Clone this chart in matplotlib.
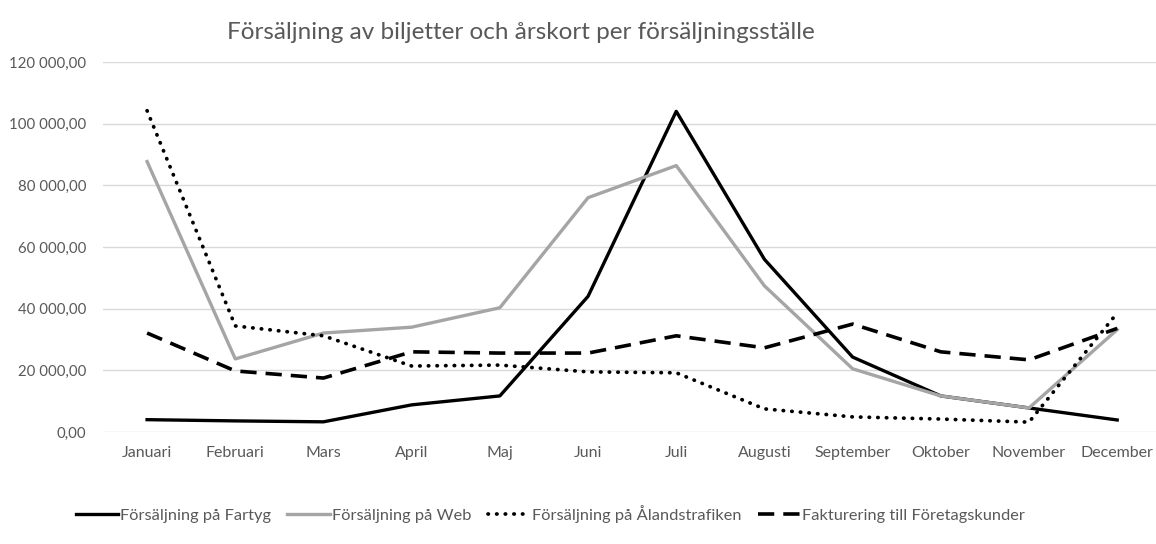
import matplotlib.pyplot as plt
from matplotlib.ticker import FuncFormatter

# month labels
months = ["Januari", "Februari", "Mars", "April", "Maj", "Juni", "Juli",
          "Augusti", "September", "Oktober", "November", "December"]

# values
fartyg = [4000, 3600, 3300, 8800, 11700, 44000, 104000, 56000, 24300, 11700, 7800, 3900]
web = [87700, 23700, 32100, 34000, 40300, 76000, 86400, 47400, 20500, 11700, 7800, 33200]
alandstrafiken = [104200, 34400, 31200, 21400, 21700, 19500, 19200, 7500, 4900, 4200, 3200, 38600]
foretag = [32100, 19800, 17500, 26000, 25600, 25600, 31200, 27300, 35000, 26000, 23400, 33600]

labels = ["Försäljning på Fartyg", "Försäljning på Web",
          "Försäljning på Ålandstrafiken", "Fakturering till Företagskunder"]

plt.rcParams['font.family'] = ['Lato', 'DejaVu Sans']
txt = '#595959'

fig = plt.figure(figsize=(11.56, 5.44), dpi=100)
ax = fig.add_axes([103 / 1156, 112 / 544, 1053 / 1156, 370 / 544])

x = range(len(months))
ax.plot(x, fartyg, color='black', lw=2.4, solid_joinstyle='round', label=labels[0])
ax.plot(x, web, color='#A5A5A5', lw=2.4, solid_joinstyle='round', label=labels[1])
ax.plot(x, alandstrafiken, color='black', lw=2.7, dashes=(0.1, 2.2),
        dash_capstyle='round', label=labels[2])
ax.plot(x, foretag, color='black', lw=2.6, dashes=(4.5, 2.5), label=labels[3])

ax.set_xlim(-0.5, 11.44)
ax.set_ylim(0, 120000)
ax.set_yticks(range(0, 120001, 20000))
ax.yaxis.set_major_formatter(FuncFormatter(
    lambda v, p: f"{v:,.2f}".replace(",", " ").replace(".", ",")))
ax.set_xticks(list(x))
ax.set_xticklabels(months)
ax.tick_params(length=0, labelsize=11, labelcolor=txt)
ax.tick_params(axis='y', pad=12, labelsize=10.8)
ax.tick_params(axis='x', pad=10, labelsize=11.5)
ax.grid(axis='y', color='#D9D9D9', lw=1)
ax.set_axisbelow(True)
for s in ax.spines.values():
    s.set_visible(False)

fig.text(0.451, 0.94, "Försäljning av biljetter och årskort per försäljningsställe",
         ha='center', va='center', fontsize=17.5, color=txt)

fig.legend(loc='center', bbox_to_anchor=(0.476, 0.055), ncol=4, frameon=False,
           fontsize=11.8, handlelength=2.6, handletextpad=0.1, columnspacing=1.0,
           labelcolor=txt)

fig.savefig("out.png", dpi=100)
